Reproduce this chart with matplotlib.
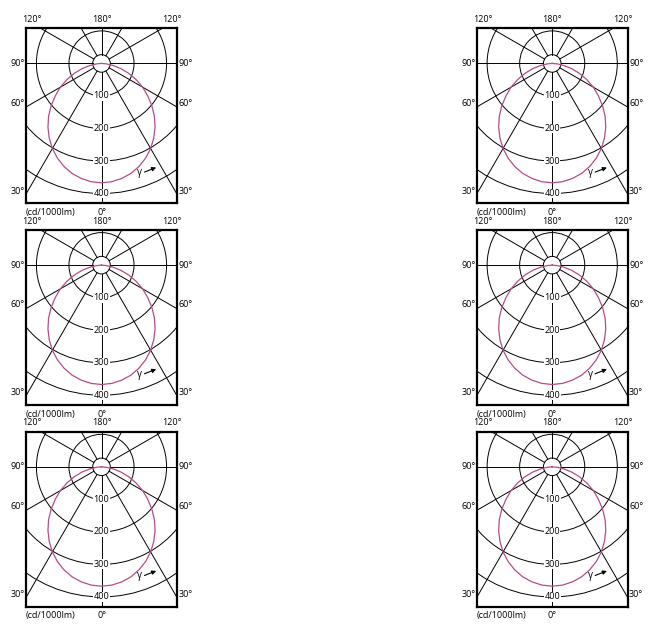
import numpy as np
import matplotlib.pyplot as plt
from matplotlib.patches import Circle

plt.rcParams['font.family'] = ['Open Sans', 'DejaVu Sans']

# light distribution (same curve in all six panels)
gamma_deg = [0, 5, 10, 15, 20, 25, 30, 35, 40, 45, 50, 55, 60, 65, 70, 75, 80, 85, 90]
intensity = [367, 365, 359, 350, 337, 321, 302, 280, 256, 230, 202, 173, 146, 117, 89, 62, 36, 15, 0]

ring_values = [100, 200, 300, 400]
ray_angles = [0, 30, 60, 90, 120, 150, 180]
side_labels = {"90°": 0, "60°": -122, "30°": -393}
unit_label = "(cd/1000lm)"

W, H = 655, 632
fig = plt.figure(figsize=(W / 100, H / 100), dpi=100)

col_x = [26, 476.7]
row_top = [28.3, 230, 431.7]
box_w, box_h = 151, 175

curve_color = "#b44c8a"
fs = 6.5
lw_grid = 0.7


def draw_panel(ax):
    ax.set_xlim(-232, 232)
    ax.set_ylim(-430, 108)
    ax.set_xticks([])
    ax.set_yticks([])
    for s in ax.spines.values():
        s.set_linewidth(1.6)
        s.set_zorder(10)

    # hub + rings
    ax.add_patch(Circle((0, 0), 27, fill=False, lw=lw_grid, color="black"))
    for r in ring_values:
        ax.add_patch(Circle((0, 0), r, fill=False, lw=lw_grid, color="black"))

    # rays
    for a in ray_angles:
        t = np.deg2rad(a)
        for sgn in ([1] if a in (0, 180) else [1, -1]):
            dx, dy = sgn * np.sin(t), -np.cos(t)
            ax.plot([27 * dx, 900 * dx], [27 * dy, 900 * dy], color="black", lw=lw_grid)

    # curve (mirrored about the vertical axis)
    g = np.deg2rad(np.array(gamma_deg))
    i = np.array(intensity)
    gg = np.concatenate([-g[::-1], g[1:]])
    ii = np.concatenate([i[::-1], i[1:]])
    ax.plot(ii * np.sin(gg), -ii * np.cos(gg), color=curve_color, lw=0.9, zorder=5)

    # ring labels
    for r in ring_values:
        ax.text(0, -r, str(r), ha="center", va="center", fontsize=fs, zorder=6,
                bbox=dict(boxstyle="square,pad=0.05", fc="white", ec="none"))

    # gamma marker
    ax.text(118, -335, "γ", ha="center", va="center", fontsize=fs + 0.5, zorder=6)
    ax.annotate("", xy=(168, -320), xytext=(132, -334),
                arrowprops=dict(arrowstyle="-|>", color="black", lw=0.8,
                                mutation_scale=6, shrinkA=0, shrinkB=0), zorder=6)

    # outer labels
    kw = dict(fontsize=fs, clip_on=False, va="center")
    ax.text(-214, 135, "120°", ha="center", **kw)
    ax.text(0, 135, "180°", ha="center", **kw)
    ax.text(217, 135, "120°", ha="center", **kw)
    for lab, y in side_labels.items():
        ax.text(-258, y, lab, ha="center", **kw)
        ax.text(258, y, lab, ha="center", **kw)
    ax.text(-232, -458, unit_label, ha="left", **kw)
    ax.text(0, -458, "0°", ha="center", **kw)


for top in row_top:
    for x0 in col_x:
        ax = fig.add_axes([x0 / W, 1 - (top + box_h) / H, box_w / W, box_h / H])
        draw_panel(ax)

fig.savefig("out.png", dpi=100)
